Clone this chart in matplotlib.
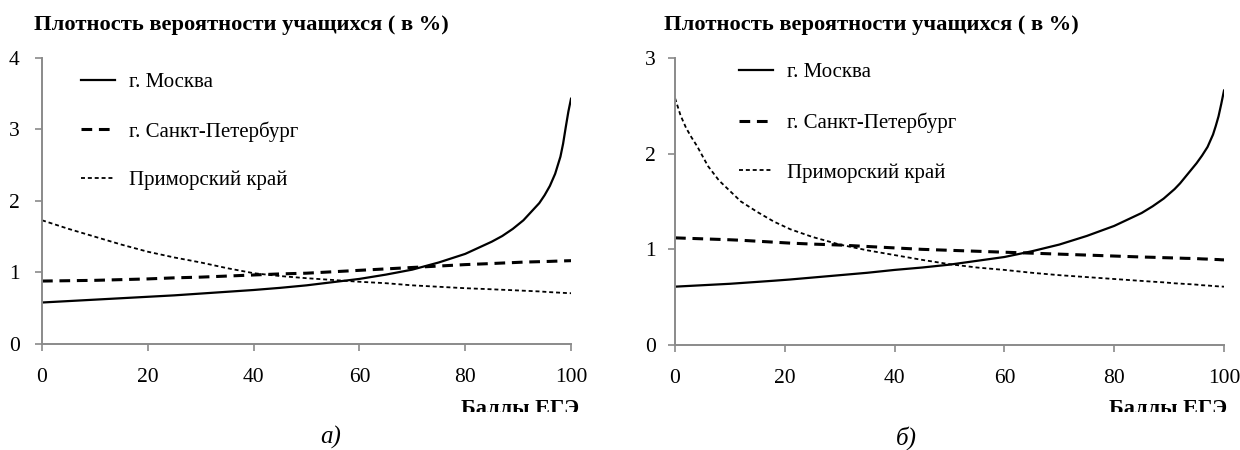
import matplotlib
matplotlib.use("Agg")
import matplotlib.pyplot as plt
from matplotlib.transforms import Bbox, TransformedBbox

# ЕГЭ scores and density curves, panel а)
x_a = [0, 5, 10, 15, 20, 25, 30, 35, 40, 45, 50, 55, 60, 65, 70, 75, 80,
       85, 87, 89, 91, 92, 93, 94, 95, 96, 97, 98, 98.5, 99, 99.5, 100]
moscow_a = [0.58, 0.60, 0.62, 0.64, 0.66, 0.68, 0.705, 0.73, 0.755, 0.785,
            0.82, 0.865, 0.91, 0.97, 1.04, 1.14, 1.26,
            1.43, 1.51, 1.61, 1.73, 1.81, 1.89, 1.97, 2.08, 2.21, 2.38,
            2.62, 2.80, 3.03, 3.25, 3.43]
spb_a = [0.88, 0.885, 0.89, 0.90, 0.91, 0.925, 0.935, 0.95, 0.965, 0.98,
         0.99, 1.01, 1.03, 1.05, 1.07, 1.09, 1.11,
         1.125, 1.132, 1.138, 1.145, 1.147, 1.149, 1.151, 1.153, 1.155,
         1.158, 1.16, 1.161, 1.163, 1.164, 1.165]
primorye_a = [1.73, 1.61, 1.50, 1.39, 1.29, 1.21, 1.14, 1.06, 0.99, 0.95,
              0.92, 0.895, 0.87, 0.85, 0.82, 0.80, 0.78,
              0.765, 0.758, 0.752, 0.745, 0.742, 0.738, 0.735, 0.73, 0.725,
              0.721, 0.717, 0.715, 0.713, 0.711, 0.71]

# panel б)
x_b = [0, 1, 2, 3, 4, 6, 8, 10, 12, 15, 18, 21, 25, 30, 35, 40, 45, 50, 55,
       60, 65, 70, 75, 80, 85, 87, 89, 91, 92, 93, 94, 95, 96, 97, 98, 98.5,
       99, 99.5, 100]
moscow_b = [0.61, 0.613, 0.616, 0.619, 0.622, 0.628, 0.634, 0.64, 0.648,
            0.66, 0.672, 0.685, 0.705, 0.73, 0.755, 0.785, 0.81, 0.84, 0.88,
            0.92, 0.98, 1.05, 1.14, 1.245, 1.38, 1.45, 1.53, 1.63, 1.69,
            1.76, 1.83, 1.90, 1.98, 2.07, 2.20, 2.29, 2.39, 2.52, 2.66]
spb_b = [1.12, 1.118, 1.116, 1.114, 1.112, 1.108, 1.104, 1.10, 1.095, 1.085,
         1.075, 1.065, 1.055, 1.045, 1.03, 1.015, 1.0, 0.99, 0.98, 0.97,
         0.96, 0.95, 0.94, 0.93, 0.92, 0.917, 0.913, 0.91, 0.908, 0.906,
         0.905, 0.903, 0.90, 0.898, 0.895, 0.894, 0.893, 0.891, 0.89]
primorye_b = [2.58, 2.40, 2.27, 2.17, 2.08, 1.87, 1.72, 1.61, 1.50, 1.39,
              1.29, 1.21, 1.13, 1.05, 0.99, 0.94, 0.89, 0.845, 0.81, 0.785,
              0.755, 0.73, 0.71, 0.69, 0.67, 0.662, 0.655, 0.645, 0.642,
              0.638, 0.635, 0.631, 0.625, 0.622, 0.617, 0.615, 0.613, 0.611,
              0.61]

labels = ["г. Москва", "г. Санкт-Петербург", "Приморский край"]
x_ticks = [0, 20, 40, 60, 80, 100]

plt.rcParams['font.family'] = ['Liberation Serif', 'DejaVu Serif']

fig = plt.figure(figsize=(12.4, 4.5), dpi=100)
ax1 = fig.add_axes([0.0339, 0.2356, 0.4266, 0.6356])
ax2 = fig.add_axes([0.5444, 0.2333, 0.4427, 0.6378])

panels = [
    (ax1, x_a, moscow_a, spb_a, primorye_a, 4, (0.074, 0.95), 11, 1.40),
    (ax2, x_b, moscow_b, spb_b, primorye_b, 3, (0.117, 0.983), 9, 1.44),
]

for ax, x, m, s, p, ytop, leg_pos, ypad, lspace in panels:
    ax.plot(x, m, color='black', lw=1.6, label=labels[0])
    ax.plot(x, s, color='black', lw=2.2, dashes=(3.5, 2.2), label=labels[1])
    ax.plot(x, p, color='black', lw=1.3, dashes=(2.2, 1.6), label=labels[2])
    ax.set_xlim(0, 100)
    ax.set_ylim(0, ytop)
    ax.set_xticks(x_ticks)
    ax.set_yticks(range(ytop + 1))
    for side in ['top', 'right']:
        ax.spines[side].set_visible(False)
    for side in ['left', 'bottom']:
        ax.spines[side].set_color('#8a8a8a')
        ax.spines[side].set_linewidth(1.4)
    ax.tick_params(axis='x', direction='out', length=5, width=1.2,
                   color='#8a8a8a', labelsize=15.5, pad=12)
    ax.tick_params(axis='y', direction='out', length=5, width=1.2,
                   color='#8a8a8a', labelsize=15.5, pad=ypad)
    ax.legend(loc='upper left', bbox_to_anchor=leg_pos, frameon=False,
              fontsize=15, handlelength=1.63, handletextpad=0.65,
              labelspacing=lspace, borderpad=0, borderaxespad=0)

title = "Плотность вероятности учащихся ( в %)"
fig.text(0.0274, 0.944, title, fontsize=16.2, fontweight='bold', va='center')
fig.text(0.5355, 0.944, title, fontsize=16.2, fontweight='bold', va='center')

# axis caption, cut along the lower edge
clip = TransformedBbox(Bbox([[0, 0.0844], [1, 1]]), fig.transFigure)
for xr in [0.467, 0.99]:
    t = fig.text(xr, 0.079, "Баллы ЕГЭ", fontsize=16, fontweight='bold',
                 ha='right', va='baseline')
    t.set_clip_box(clip)
    t.set_clip_on(True)

fig.text(0.267, 0.027, "а)", fontsize=18, style='italic', ha='center', va='center')
fig.text(0.731, 0.027, "б)", fontsize=18, style='italic', ha='center', va='center')

fig.savefig("out.png", dpi=100)
